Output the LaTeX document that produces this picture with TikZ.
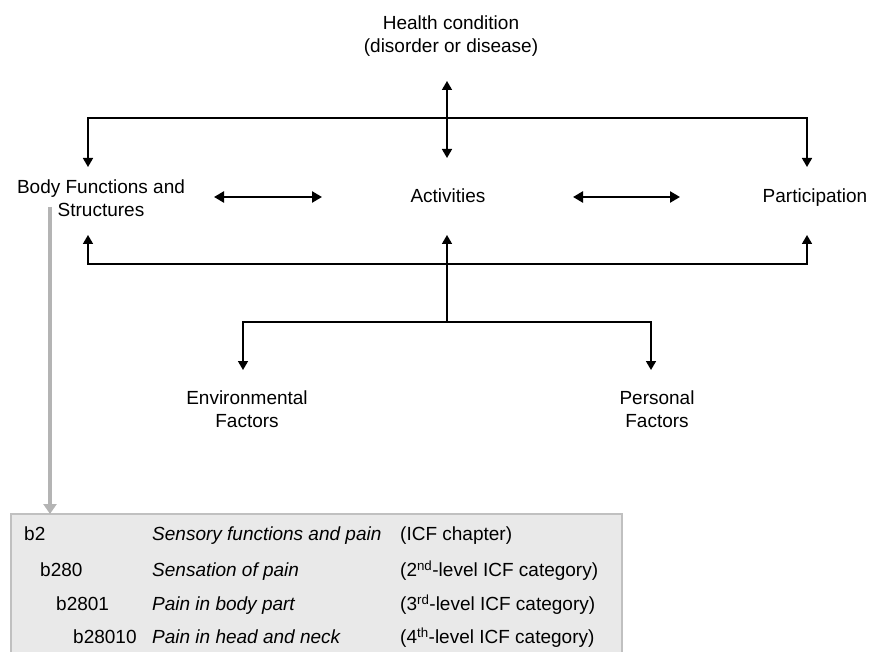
\documentclass[tikz,border=0pt]{standalone}
\usepackage{fontspec}
\setmainfont{Liberation Sans}
\usetikzlibrary{arrows.meta,positioning}
\definecolor{icfline}{RGB}{0,0,0}
\definecolor{icfgray}{RGB}{180,180,180}
\definecolor{icffill}{RGB}{233,233,233}
\definecolor{icfframe}{RGB}{192,192,192}

\begin{document}
\begin{tikzpicture}[x=1pt,y=-1pt,
    every node/.style={font=\fontsize{19}{23}\selectfont,align=center,inner sep=0pt,
      text height=13.6pt,text depth=0pt},
    link/.style={icfline,line width=1.6pt,arrows={-Triangle[width=10pt,length=9pt]}},
    twoway/.style={icfline,line width=1.6pt,{Triangle[width=10pt,length=9pt]}-{Triangle[width=10pt,length=9pt]}},
    thickway/.style={icfline,line width=2.6pt,{Triangle[width=11pt,length=10pt]}-{Triangle[width=11pt,length=10pt]}},
    grayarr/.style={icfgray,line width=3.5pt,-{Triangle[width=13pt,length=10pt]}},
    cell/.style={anchor=west}]
  \useasboundingbox (0,0) rectangle (870,652);
  % Components
  \node (hc)  at (451,46)  {Health condition\\(disorder or disease)};
  \node (bfs) at (101,210) {Body Functions and\\Structures};
  \node (act) at (448,196) {Activities};
  \node (par) at (815,196) {Participation};
  \node (env) at (247,421) {Environmental\\Factors};
  \node (pf)  at (657,421) {Personal\\Factors};
  % Arrow ends and buses
  \coordinate (hcB)  at (447,81);
  \coordinate (actT) at (447,158);
  \coordinate (busT) at (447,118);
  \coordinate (bfsT) at (88,167);
  \coordinate (parT) at (807,167);
  \coordinate (bfsB) at (88,235);
  \coordinate (parB) at (807,235);
  \coordinate (actB) at (447,235);
  \coordinate (busB) at (447,264);
  \coordinate (busF) at (447,322);
  \coordinate (envT) at (243,370);
  \coordinate (pfT)  at (651,370);
  \coordinate (hL1) at (214,197);
  \coordinate (hR1) at (322,197);
  \coordinate (hL2) at (573,197);
  \coordinate (hR2) at (680,197);
  % Connectors
  \draw[twoway] (hcB) -- (actT);
  \draw[twoway] (bfsT) |- (busT) -| (parT);
  \draw[twoway] (bfsB) |- (busB) -| (parB);
  \draw[link] (busF) -- (actB);
  \draw[twoway] (envT) |- (busF) -| (pfT);
  \draw[thickway] (hL1) -- (hR1);
  \draw[thickway] (hL2) -- (hR2);
  % Classification box
  \draw[icfframe,fill=icffill,line width=1.5pt] (11,514) rectangle (622,660);
  \coordinate (bfsG) at (50,207);
  \coordinate (boxT) at (50,514);
  \draw[grayarr] (bfsG) -- (boxT);
  \node[cell] (c1) at (24,534)  {b2};
  \node[cell] (c2) at (40,570)  {b280};
  \node[cell] (c3) at (56,604)  {b2801};
  \node[cell] (c4) at (73,637)  {b28010};
  \node[cell] (n1) at (152,534) {\itshape Sensory functions and pain};
  \node[cell] (n2) at (152,570) {\itshape Sensation of pain};
  \node[cell] (n3) at (152,604) {\itshape Pain in body part};
  \node[cell] (n4) at (152,637) {\itshape Pain in head and neck};
  \node[cell] (l1) at (400,534) {(ICF chapter)};
  \node[cell] (l2) at (400,570) {(2\textsuperscript{nd}-level ICF category)};
  \node[cell] (l3) at (400,604) {(3\textsuperscript{rd}-level ICF category)};
  \node[cell] (l4) at (400,637) {(4\textsuperscript{th}-level ICF category)};
\end{tikzpicture}
\end{document}
